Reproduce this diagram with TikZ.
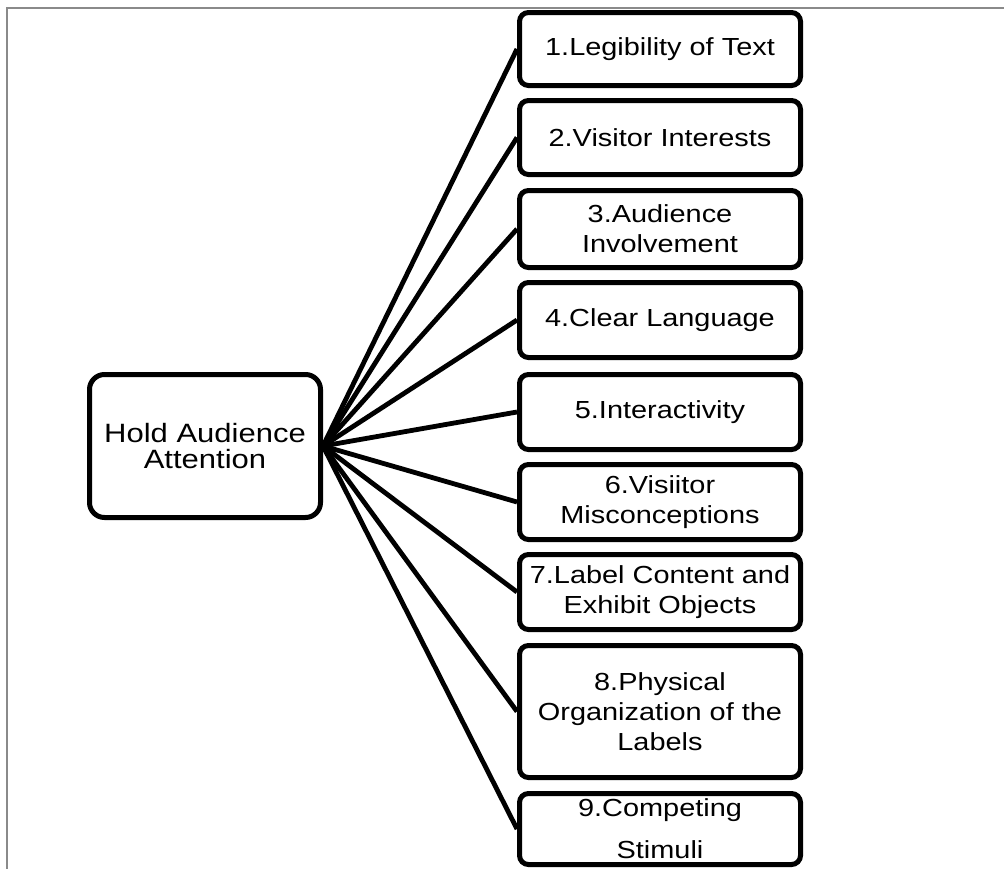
\documentclass[tikz,border=0pt]{standalone}
\usepackage{fontspec}
\setmainfont{Liberation Sans}[FakeStretch=1.17]
\definecolor{framegray}{HTML}{8A8A8A}
\tikzset{
  item/.style={draw=black, line width=5pt, rounded corners=9pt, fill=white,
    minimum width=281pt, inner sep=0pt, align=center,
    font=\fontsize{24.7}{30}\selectfont},
  hub/.style={draw=black, line width=5pt, rounded corners=15pt, fill=white,
    minimum width=231pt, minimum height=143pt, inner sep=0pt, align=center,
    font=\fontsize{26.5}{25.5}\selectfont},
  spoke/.style={draw=black, line width=4.8pt}
}
\begin{document}
\begin{tikzpicture}[x=1pt, y=-1pt]
\useasboundingbox (0,0) rectangle (1004,868);
\draw[framegray, line width=1.5pt] (7,870) -- (7,8) -- (1006,8);

\node[hub] (main) at (205,446) {Hold Audience\\Attention};

\node[item, minimum height=73pt] (b1) at (660,49) {1.Legibility of Text};
\node[item, minimum height=74pt] (b2) at (660,137.5) {2.Visitor Interests};
\node[item, minimum height=77pt] (b3) at (660,229) {3.Audience\\Involvement};
\node[item, minimum height=75pt] (b4) at (660,320) {4.Clear Language};
\node[item, minimum height=75pt] (b5) at (660,412) {5.Interactivity};
\node[item, minimum height=75pt] (b6) at (660,502) {6.Visiitor\\Misconceptions};
\node[item, minimum height=75pt] (b7) at (660,592) {7.Label Content and\\Exhibit Objects};
\node[item, minimum height=132pt] (b8) at (660,711.5) {8.Physical\\Organization of the\\Labels};
\node[item, minimum height=71pt, font=\fontsize{24.7}{42}\selectfont] (b9) at (660,829) {9.Competing\\Stimuli};

\foreach \b in {b1,b2,b3,b4,b5,b6,b7,b8,b9}
  \draw[spoke] (main.east) -- (\b.west);
\end{tikzpicture}
\end{document}
